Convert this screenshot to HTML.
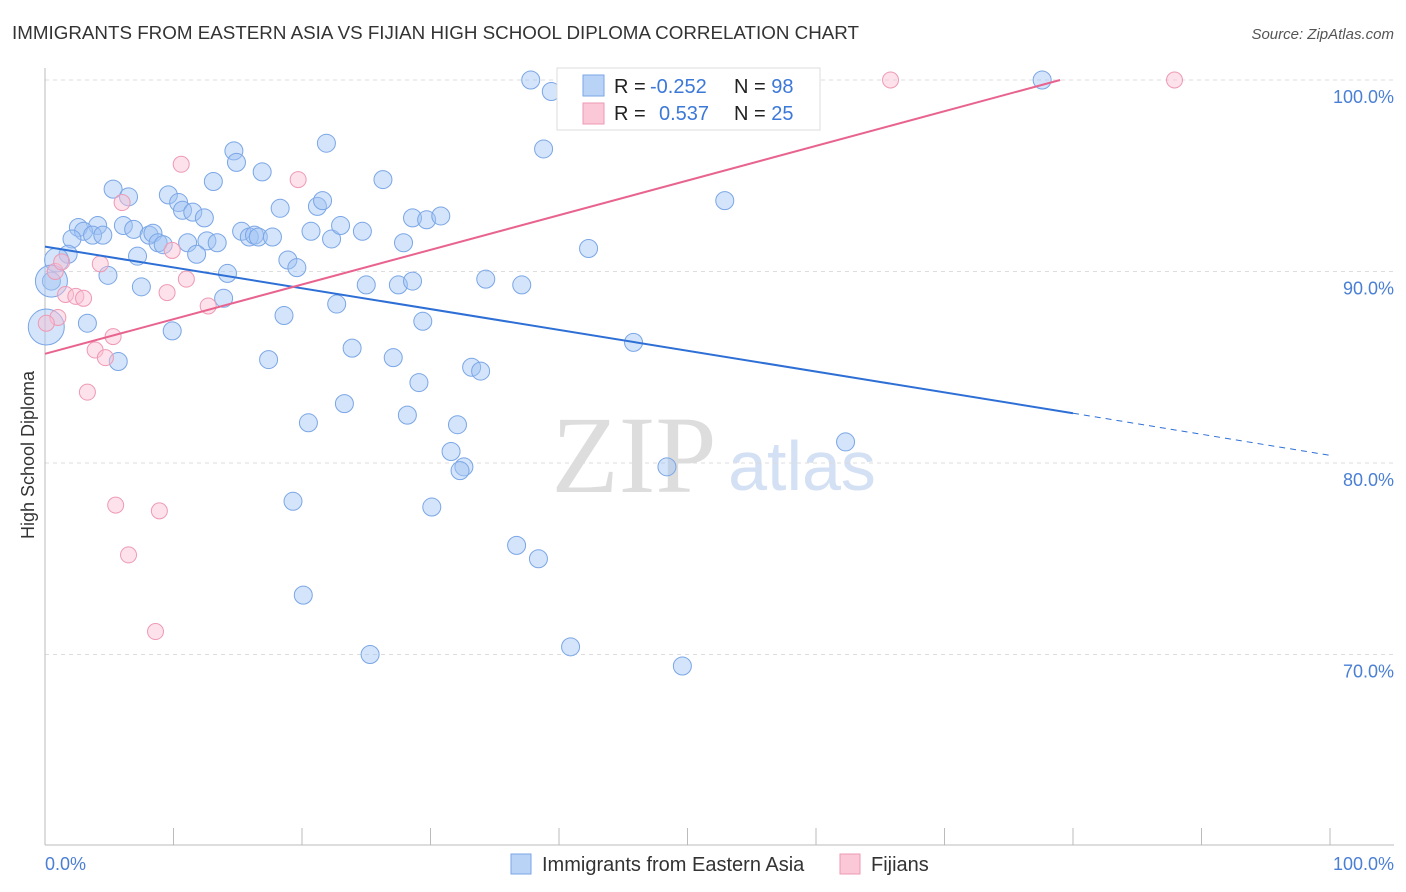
<!DOCTYPE html>
<html><head><meta charset="utf-8"><style>
body{margin:0;background:#fff;font-family:"Liberation Sans",sans-serif;}
</style></head><body>
<svg id="c" width="1406" height="892" style="display:block">
<text x="12" y="39" font-size="18" fill="#333" textLength="847" lengthAdjust="spacingAndGlyphs">IMMIGRANTS FROM EASTERN ASIA VS FIJIAN HIGH SCHOOL DIPLOMA CORRELATION CHART</text>
<text x="1394" y="39" font-size="15" fill="#555" font-style="italic" text-anchor="end">Source: ZipAtlas.com</text>
<text x="34" y="455" font-size="18" fill="#333" transform="rotate(-90 34 455)" text-anchor="middle">High School Diploma</text>
<text x="634" y="492" font-size="110" fill="#ddd" font-family="Liberation Serif,serif" text-anchor="middle">ZIP</text>
<text x="802" y="490" font-size="70" fill="#d4e0f3" text-anchor="middle">atlas</text>
<g id="grid"></g><g id="pts"></g><g id="lines"></g>
<g>
<rect x="557" y="68" width="263" height="62" fill="#fff" stroke="#ddd"/>
<rect x="583" y="75" width="21" height="21" fill="#b9d3f7" stroke="#7aa6e6"/>
<rect x="583" y="103" width="21" height="21" fill="#fbc8d8" stroke="#ee9ab4"/>
<text x="614" y="93" font-size="20" fill="#222">R = <tspan x="650" fill="#3b78d8">-0.252</tspan><tspan x="734">N = </tspan><tspan fill="#3b78d8">98</tspan></text>
<text x="614" y="120" font-size="20" fill="#222">R = <tspan x="659" fill="#3b78d8">0.537</tspan><tspan x="734">N = </tspan><tspan fill="#3b78d8">25</tspan></text>
</g>
<g>
<rect x="511" y="854" width="20" height="20" fill="#b9d3f7" stroke="#7aa6e6"/>
<text x="542" y="871" font-size="20" fill="#333">Immigrants from Eastern Asia</text>
<rect x="840" y="854" width="20" height="20" fill="#fbc8d8" stroke="#ee9ab4"/>
<text x="871" y="871" font-size="20" fill="#333">Fijians</text>
</g>
<text x="45" y="870" font-size="18" fill="#4a7fd4">0.0%</text>
<text x="1394" y="870" font-size="18" fill="#4a7fd4" text-anchor="end">100.0%</text>
</svg>
<script>
const yTicks=[100,90,80,70];
const yTickLabels=["100.0%","90.0%","80.0%","70.0%"];
const blueX=[37.8,43.0,39.4,77.6,38.8,21.9,14.7,14.9,16.9,26.3,13.1,5.3,6.5,9.6,10.4,10.7,11.5,12.4,18.3,21.2,21.6,28.6,29.7,30.8,52.9,2.6,4.1,3.0,3.7,4.5,2.1,6.1,6.9,8.1,8.4,8.8,9.2,11.1,12.6,13.4,15.3,15.9,16.3,16.6,17.7,20.7,22.3,23.0,24.7,27.9,42.3,1.8,0.9,0.5,7.2,4.9,11.8,14.2,18.9,19.6,7.5,13.9,25.0,27.5,28.6,34.3,37.1,22.7,18.6,29.4,3.3,9.9,45.8,23.9,17.4,27.1,5.7,33.2,33.9,29.1,23.3,20.5,28.2,32.1,31.6,32.6,32.3,48.4,62.3,19.3,30.1,36.7,38.4,20.1,25.3,40.9,49.6,0.1,0.5];
const blueY=[100,100,99.4,100,96.4,96.7,96.3,95.7,95.2,94.8,94.7,94.3,93.9,94.0,93.6,93.2,93.1,92.8,93.3,93.4,93.7,92.8,92.7,92.9,93.7,92.3,92.4,92.1,91.9,91.9,91.7,92.4,92.2,91.9,92.0,91.5,91.4,91.5,91.6,91.5,92.1,91.8,91.9,91.8,91.8,92.1,91.7,92.4,92.1,91.5,91.2,90.9,90.6,89.5,90.8,89.8,90.9,89.9,90.6,90.2,89.2,88.6,89.3,89.3,89.5,89.6,89.3,88.3,87.7,87.4,87.3,86.9,86.3,86.0,85.4,85.5,85.3,85.0,84.8,84.2,83.1,82.1,82.5,82.0,80.6,79.8,79.6,79.8,81.1,78.0,77.7,75.7,75.0,73.1,70.0,70.4,69.4,87.1,89.5];
const blueR=[9,9,9,9,9,9,9,9,9,9,9,9,9,9,9,9,9,9,9,9,9,9,9,9,9,9,9,9,9,9,9,9,9,9,9,9,9,9,9,9,9,9,9,9,9,9,9,9,9,9,9,9,12,9,9,9,9,9,9,9,9,9,9,9,9,9,9,9,9,9,9,9,9,9,9,9,9,9,9,9,9,9,9,9,9,9,9,9,9,9,9,9,9,9,9,9,9,18,16];
const pinkX=[65.8,87.9,10.6,19.7,6.0,0.8,4.3,9.9,11.0,1.6,2.4,3.0,9.5,12.7,1.0,0.1,5.3,3.9,4.7,3.3,5.5,8.9,6.5,8.6,1.3];
const pinkY=[100,100,95.6,94.8,93.6,90.0,90.4,91.1,89.6,88.8,88.7,88.6,88.9,88.2,87.6,87.3,86.6,85.9,85.5,83.7,77.8,77.5,75.2,71.2,90.5];
const blueLine=[0,91.3,80,82.6,100,80.4];
const pinkLine=[0,85.7,79,100];
const X=v=>45+v*12.85, Y=v=>80+(100-v)*19.15;
const NS="http://www.w3.org/2000/svg";
function mk(t,a,p){const e=document.createElementNS(NS,t);for(const k in a)e.setAttribute(k,a[k]);document.getElementById(p).appendChild(e);return e;}
yTicks.forEach((t,i)=>{
 const l=mk('line',{x1:45,x2:1394,y1:Y(t),y2:Y(t),stroke:'#ddd','stroke-dasharray':'4,4'},'grid');
 
 
 const tx=mk('text',{x:1394,y:Y(t)+23,'font-size':18,fill:'#4a7fd4','text-anchor':'end'},'grid');
 tx.textContent=yTickLabels[i];
 
 
});
const ax=mk('line',{x1:45,x2:45,y1:68,y2:845,stroke:'#bbb'},'grid');


const bx=mk('line',{x1:45,x2:1394,y1:845,y2:845,stroke:'#bbb'},'grid');


for(let i=0;i<=10;i++){const t=mk('line',{x1:X(i*10),x2:X(i*10),y1:828,y2:845,stroke:'#bbb'},'grid');
 
 }
blueX.forEach((x,i)=>{const c=mk('circle',{cx:X(x),cy:Y(blueY[i]),r:blueR[i],fill:'rgba(160,196,244,0.45)',stroke:'#7aa6e6','stroke-width':1},'pts');
 
 });
pinkX.forEach((x,i)=>{const c=mk('circle',{cx:X(x),cy:Y(pinkY[i]),r:8,fill:'rgba(250,190,210,0.45)',stroke:'#ee9ab4','stroke-width':1},'pts');
 
 });
const b1=mk('line',{x1:X(blueLine[0]),y1:Y(blueLine[1]),x2:X(blueLine[2]),y2:Y(blueLine[3]),stroke:'#2e6fd6','stroke-width':2},'lines');


const b2=mk('line',{x1:X(blueLine[2]),y1:Y(blueLine[3]),x2:X(blueLine[4]),y2:Y(blueLine[5]),stroke:'#2e6fd6','stroke-width':1,'stroke-dasharray':'6,5'},'lines');


const p1=mk('line',{x1:X(pinkLine[0]),y1:Y(pinkLine[1]),x2:X(pinkLine[2]),y2:Y(pinkLine[3]),stroke:'#e8648f','stroke-width':2},'lines');


</script>
</body></html>
